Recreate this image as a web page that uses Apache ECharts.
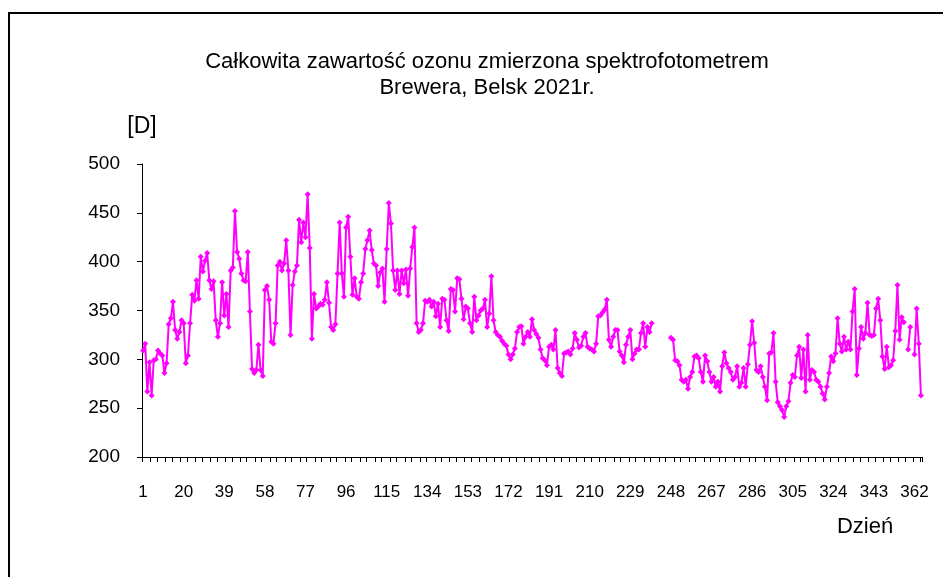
<!DOCTYPE html>
<html>
<head>
<meta charset="utf-8">
<script src="https://cdn.jsdelivr.net/npm/echarts@6/dist/echarts.min.js"></script>
<style>
  html, body { margin: 0; padding: 0; background: #fff; }
  #chart { width: 943px; height: 577px; }
</style>
</head>
<body>
<div id="chart"></div>
<script>
// całkowita zawartość ozonu [D], dzień 1..365 (null = brak pomiaru)
const ozon = [
  309, 316, 267, 297, 263, 299, 300, 309, 306, 304,
  286, 296, 336, 342, 359, 330, 321, 328, 340, 337,
  296, 304, 337, 366, 360, 381, 362, 405, 390, 401,
  409, 381, 372, 380, 340, 323, 337, 379, 345, 367,
  333, 391, 394, 452, 410, 403, 388, 381, 380, 410,
  349, 290, 286, 289, 315, 289, 283, 371, 375, 361,
  318, 316, 337, 396, 400, 391, 398, 422, 391, 325,
  376, 390, 396, 443, 420, 440, 425, 469, 414, 321,
  367, 352, 354, 357, 356, 361, 379, 358, 333, 330,
  336, 388, 440, 388, 364, 435, 446, 405, 366, 383,
  364, 362, 379, 388, 413, 422, 432, 412, 398, 396,
  375, 389, 393, 359, 413, 460, 439, 391, 371, 391,
  367, 391, 378, 392, 365, 393, 415, 435, 337, 328,
  330, 337, 360, 359, 361, 354, 359, 344, 357, 333,
  362, 361, 340, 329, 372, 371, 349, 383, 382, 362,
  341, 354, 352, 337, 328, 364, 340, 345, 350, 352,
  361, 333, 347, 385, 340, 328, 325, 323, 319, 316,
  314, 305, 300, 305, 311, 328, 333, 334, 316, 323,
  328, 323, 341, 330, 326, 322, 310, 301, 299, 294,
  313, 315, 310, 330, 291, 286, 283, 306, 307, 308,
  305, 311, 327, 320, 312, 314, 323, 327, 313, 311,
  310, 308, 316, 344, 345, 348, 351, 361, 320, 313,
  323, 330, 330, 308, 304, 297, 315, 323, 330, 300,
  306, 310, 310, 327, 337, 313, 333, 328, 337, null,
  null, null, null, null, null, null, null, 322, 320, 299,
  298, 294, 279, 277, 279, 270, 282, 287, 303, 304,
  301, 287, 277, 304, 298, 287, 277, 282, 272, 277,
  267, 293, 307, 296, 291, 287, 279, 282, 293, 272,
  276, 291, 272, 295, 315, 339, 317, 289, 287, 293,
  282, 272, 258, 306, 307, 327, 277, 256, 252, 248,
  241, 252, 257, 276, 284, 282, 304, 313, 281, 310,
  267, 325, 279, 289, 287, 279, 277, 272, 265, 259,
  272, 286, 303, 298, 306, 342, 316, 308, 323, 310,
  318, 310, 349, 372, 284, 311, 333, 321, 327, 358,
  325, 324, 325, 352, 362, 340, 303, 290, 313, 292,
  294, 299, 329, 376, 320, 343, 338, null, 310, 333,
  null, 305, 352, 316, 263
];
const dni = ozon.map((v, i) => String(i + 1));

const yMin = 200;
const yMax = 500;
const yStep = 50;

const font = '"Liberation Sans", Arial, sans-serif';

const chart = echarts.init(document.getElementById('chart'));
chart.setOption({
  backgroundColor: '#fff',
  animation: false,
  textStyle: { fontFamily: font },
  graphic: [
    {
      // ramka wykresu
      type: 'rect',
      shape: { x: 9, y: 13, width: 1000, height: 700 },
      style: { fill: 'none', stroke: '#000', lineWidth: 2 }
    },
    {
      type: 'text',
      style: {
        x: 487, y: 75,
        text: 'Całkowita zawartość ozonu zmierzona spektrofotometrem\nBrewera, Belsk 2021r.',
        textAlign: 'center', textVerticalAlign: 'middle',
        font: '22px ' + font, lineHeight: 26, fill: '#000'
      }
    },
    {
      type: 'text',
      style: {
        x: 865, y: 527, text: 'Dzień',
        textAlign: 'center', textVerticalAlign: 'middle',
        font: '22px ' + font, fill: '#000'
      }
    }
  ],
  grid: { left: 142, right: 21, top: 164, bottom: 120 },
  xAxis: {
    type: 'category',
    data: dni,
    boundaryGap: true,
    axisLine: { show: true, lineStyle: { color: '#000', width: 1 } },
    axisTick: {
      show: true,
      inside: false,
      length: 5,
      lineStyle: { color: '#000', width: 1 },
      interval: (i) => Math.floor(i / 3.5) !== Math.floor((i - 1) / 3.5)
    },
    axisLabel: {
      interval: 18,
      margin: 27,
      color: '#000',
      fontSize: 17,
      fontFamily: font
    }
  },
  yAxis: {
    type: 'value',
    min: yMin,
    max: yMax,
    interval: yStep,
    name: '[D]',
    nameLocation: 'end',
    nameGap: 26,
    nameTextStyle: { color: '#000', fontSize: 23, fontFamily: font },
    axisLine: { show: true, lineStyle: { color: '#000', width: 1 } },
    axisTick: { show: true, inside: false, length: 5, lineStyle: { color: '#000', width: 1 } },
    axisLabel: { margin: 22, color: '#000', fontSize: 19, fontFamily: font },
    splitLine: { show: false }
  },
  series: [
    {
      name: 'ozon',
      type: 'line',
      data: ozon,
      connectNulls: false,
      symbol: 'diamond',
      symbolSize: 6,
      showAllSymbol: true,
      lineStyle: { color: '#ff00ff', width: 2 },
      itemStyle: { color: '#ff00ff', borderWidth: 0 }
    }
  ]
});
</script>
</body>
</html>
